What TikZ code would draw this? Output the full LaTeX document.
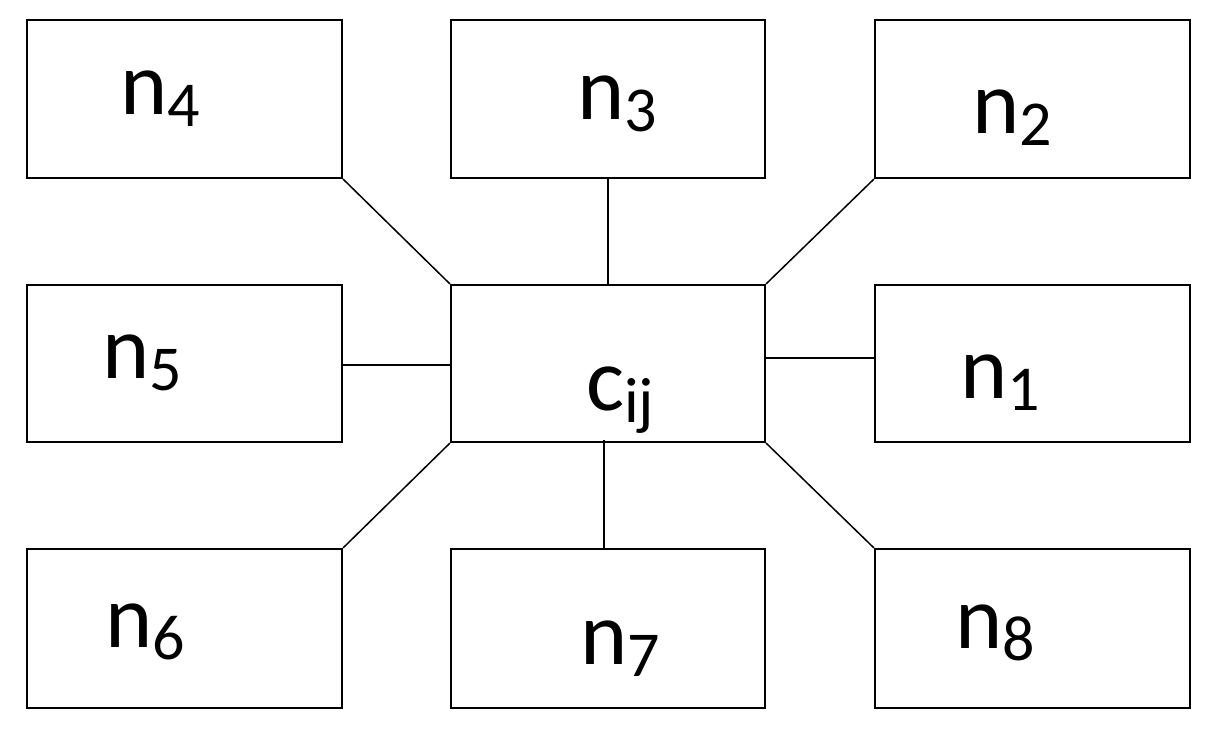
\documentclass[tikz,border=0pt]{standalone}
\usepackage{fontspec}
\setmainfont{Carlito}
\begin{document}
\begin{tikzpicture}[x=1pt,y=-1pt,
  box/.style={draw,line width=2.2pt,inner sep=0pt},
  con/.style={line width=1.5pt},
  lab/.style={font=\fontsize{90}{90}\selectfont,inner sep=0pt,anchor=base west}]
\newcommand{\nl}[1]{n\raisebox{-12pt}{\fontsize{64}{64}\selectfont #1}}
\useasboundingbox (0,0) rectangle (1217,738);
\node[box,minimum width=315pt,minimum height=158pt] (n4) at (184.5,99) {};
\node[box,minimum width=314pt,minimum height=158pt] (n3) at (608,99) {};
\node[box,minimum width=315pt,minimum height=158pt] (n2) at (1032.5,99) {};
\node[box,minimum width=315pt,minimum height=157pt] (n5) at (184.5,363.5) {};
\node[box,minimum width=314pt,minimum height=157pt] (c) at (608,363.5) {};
\node[box,minimum width=315pt,minimum height=157pt] (n1) at (1032.5,363.5) {};
\node[box,minimum width=315pt,minimum height=159pt] (n6) at (184.5,628.5) {};
\node[box,minimum width=314pt,minimum height=159pt] (n7) at (608,628.5) {};
\node[box,minimum width=315pt,minimum height=159pt] (n8) at (1032.5,628.5) {};
\node[lab] (t4) at (120,115) {\nl{4}};
\node[lab] (t3) at (577,120) {\nl{3}};
\node[lab] (t2) at (972,134) {\nl{2}};
\node[lab] (t5) at (102,378) {\nl{5}};
\node[lab] (tc) at (586,410) {c\raisebox{-12pt}{\fontsize{64}{64}\selectfont ij}};
\node[lab] (t1) at (960,398) {\nl{1}};
\node[lab] (t6) at (105,647) {\nl{6}};
\node[lab] (t7) at (580,664) {\nl{7}};
\node[lab] (t8) at (955,648) {\nl{8}};
\draw[con] (n4.south east) -- (c.north west);
\draw[con] (n3.south) -- (c.north);
\draw[con] (n2.south west) -- (c.north east);
\draw[con] (n5.east |- 0,365) -- (c.west |- 0,365);
\draw[con] (n1.west |- 0,358) -- (c.east |- 0,358);
\draw[con] (n6.north east) -- (c.south west);
\draw[con] (n7.north -| 604,0) -- (604,440);
\draw[con] (n8.north west) -- (c.south east);
\end{tikzpicture}
\end{document}
